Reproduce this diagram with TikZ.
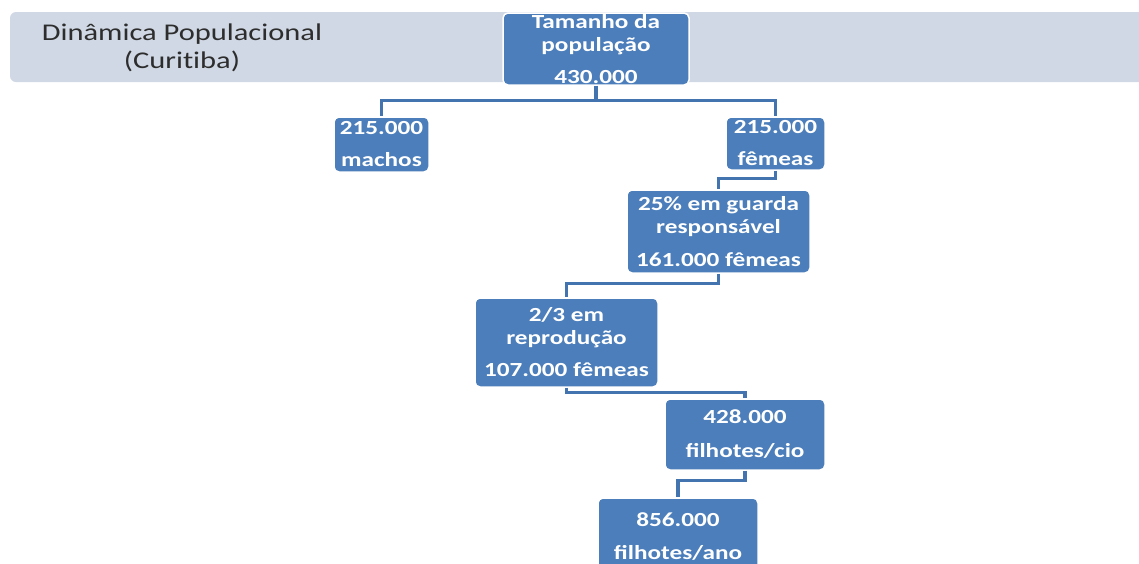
\documentclass[tikz,border=0pt]{standalone}
\usepackage{fontspec}
\newfontfamily\boxfont{Carlito}[FakeStretch=1.26]
\newfontfamily\titlefont{Carlito}[FakeStretch=1.27,Ligatures={NoCommon,NoDiscretionary}]
\definecolor{boxblue}{RGB}{75,126,186}
\definecolor{lineblue}{RGB}{68,116,176}
\definecolor{bannergray}{RGB}{207,216,228}
\definecolor{titlegray}{RGB}{45,45,45}
\tikzset{
  box/.style={rectangle, rounded corners=5pt, fill=boxblue, draw=white, line width=1.5pt,
    text=white, align=center, inner sep=0pt,
    font={\boxfont\bfseries\fontsize{20}{23}\selectfont}},
  conn/.style={draw=lineblue, line width=3.4pt},
}
\begin{document}
\begin{tikzpicture}[x=1pt,y=-1pt]
\useasboundingbox (0,0) rectangle (1139,563);
\clip (0,0) rectangle (1139,563);
% banner
\fill[bannergray, rounded corners=6pt] (10,12) rectangle (1160,82);
\node[align=center, text=titlegray, inner sep=0pt,
  font={\titlefont\fontsize{24}{28}\selectfont}] (title) at (182,48)
  {Dinâmica Populacional\\(Curitiba)};
% boxes
\node[box, minimum width=186pt, minimum height=72pt] (top) at (596,49)
  {Tamanho da\\população\\[9pt]430.000};
\node[box, minimum width=95pt, minimum height=55pt] (machos) at (381.5,144.5)
  {215.000\\[9pt]machos};
\node[box, minimum width=99pt, minimum height=53pt] (femeas) at (775.5,143.5)
  {215.000\\[9pt]fêmeas};
\node[box, minimum width=183pt, minimum height=83pt] (guarda) at (718.5,231.5)
  {25\% em guarda\\responsável\\[10pt]161.000 fêmeas};
\node[box, minimum width=183pt, minimum height=89pt] (repro) at (566.5,342.5)
  {2/3 em\\reprodução\\[9pt]107.000 fêmeas};
\node[box, minimum width=160pt, minimum height=71pt] (cio) at (745,434.5)
  {428.000\\[11pt]filhotes/cio};
\node[box, minimum width=160pt, minimum height=78pt] (ano) at (678,537)
  {856.000\\[10pt]filhotes/ano};
% connectors
\draw[conn] (top.south) -- ++(0,15) -| (machos.north);
\draw[conn] (top.south) -- ++(0,15) -| (femeas.north);
\draw[conn] (femeas.south) -- ++(0,8) -| (guarda.north);
\draw[conn] (guarda.south) -- ++(0,10) -| (repro.north);
\draw[conn] (repro.south) -- ++(0,5) -| (cio.north);
\draw[conn] (cio.south) -- ++(0,10) -| (ano.north);
\end{tikzpicture}
\end{document}
